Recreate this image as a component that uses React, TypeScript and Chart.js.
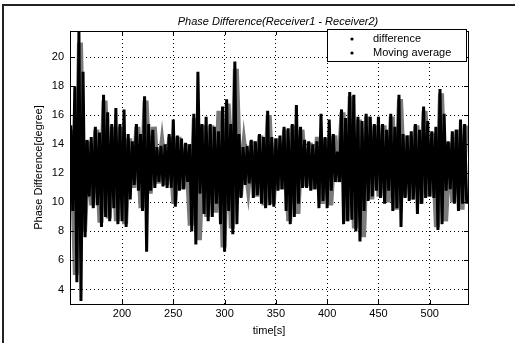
import React, { useEffect, useRef } from "react";
import { Chart, registerables } from "chart.js";

Chart.register(...registerables);

const TITLE = "Phase Difference(Receiver1 - Receiver2)";
const X_LABEL = "time[s]";
const Y_LABEL = "Phase Difference[degree]";
const LEGEND_LABELS = ["difference", "Moving average"];

const X_TICKS = [200, 250, 300, 350, 400, 450, 500];
const Y_TICKS = [4, 6, 8, 10, 12, 14, 16, 18, 20];

// difference: sampled every 2 s starting at 150 s
const DIFF_START = 150;
const DIFF_STEP = 2;
const differenceValues = [
  15.3, 9.4, 18.0, 4.5, 21.8, 3.2, 19.0, 7.6, 14.3, 10.4,
  14.5, 9.6, 15.2, 9.8, 14.8, 8.3, 17.4, 9.0, 16.2, 8.7,
  15.4, 9.6, 16.5, 8.5, 15.4, 8.7, 16.4, 8.3, 14.7, 10.2,
  14.2, 11.2, 15.4, 10.8, 14.7, 9.4, 17.3, 6.6, 15.4, 10.8,
  15.0, 11.0, 13.8, 11.4, 13.9, 11.1, 14.0, 11.0, 14.7, 11.0,
  15.7, 9.7, 14.6, 10.8, 14.4, 10.9, 14.1, 11.4, 14.0, 8.0,
  16.1, 7.1, 19.0, 10.6, 15.4, 9.2, 15.9, 8.7, 15.4, 9.0,
  15.2, 9.9, 14.9, 8.5, 16.6, 6.6, 17.1, 9.4, 15.4, 7.8,
  19.7, 8.5, 14.7, 10.3, 13.8, 11.2, 13.9, 11.3, 14.3, 10.3,
  14.2, 10.5, 14.7, 9.9, 14.5, 9.6, 16.3, 9.8, 14.5, 9.7,
  14.4, 10.8, 14.6, 10.9, 15.2, 9.4, 15.1, 8.5, 15.4, 9.0,
  16.7, 9.9, 15.2, 11.0, 14.3, 11.0, 14.2, 10.8, 14.0, 10.9,
  14.2, 9.6, 16.1, 10.1, 14.5, 9.6, 15.7, 10.8, 14.7, 11.4,
  13.5, 11.4, 16.4, 8.5, 15.8, 8.7, 17.6, 8.8, 17.4, 8.0,
  15.9, 7.3, 15.6, 9.4, 16.1, 10.1, 15.9, 10.4, 15.4, 10.8,
  15.9, 10.3, 15.4, 9.9, 15.0, 10.8, 16.1, 9.4, 15.2, 9.6,
  17.4, 8.3, 14.7, 10.3, 14.6, 10.1, 14.9, 10.2, 15.4, 9.2,
  15.0, 9.9, 16.6, 10.3, 15.6, 10.4, 14.9, 10.3, 15.2, 8.1,
  17.8, 8.5, 16.1, 10.8, 14.2, 10.9, 14.9, 9.9, 15.0, 9.4,
  15.7, 9.9, 15.4, 9.9,
];

// moving average: sampled every 4 s starting at 151 s
const AVG_START = 151;
const AVG_STEP = 4;
const movingAverageValues = [
  15.0, 5.0, 21.0, 8.0, 14.2, 9.8, 15.0, 8.6, 17.0, 8.9,
  15.2, 8.7, 15.2, 8.5, 14.4, 11.0, 15.2, 9.6, 17.0, 10.6,
  15.2, 11.3, 13.8, 11.2, 14.5, 9.9, 14.5, 10.9, 14.0, 8.4,
  15.8, 7.4, 15.3, 9.0, 15.3, 9.3, 16.3, 6.9, 16.8, 8.2,
  19.2, 10.4, 13.7, 11.3, 14.2, 10.4, 14.6, 9.8, 16.0, 9.9,
  14.4, 10.9, 15.0, 8.7, 15.3, 9.2, 15.0, 11.1, 14.1, 10.9,
  14.5, 9.9, 14.4, 9.8, 14.6, 11.4, 16.2, 8.7, 17.3, 8.2,
  15.7, 7.6, 15.9, 10.2, 15.3, 10.4, 15.3, 10.0, 15.9, 9.5,
  17.1, 10.4, 14.6, 10.2, 15.3, 9.9, 16.3, 10.4, 14.8, 8.3,
  17.5, 8.7, 14.1, 10.0, 15.0, 9.5, 15.3,
];

const X_MIN = 149.3;
const X_MAX = 537.3;
const Y_MIN = 3.0;
const Y_MAX = 21.8;

const FONT = "'Liberation Sans', Arial, sans-serif";

const decorPlugin = {
  id: "decor",
  beforeDraw(chart: any) {
    const ctx = chart.ctx;
    ctx.save();
    ctx.fillStyle = "#ffffff";
    ctx.fillRect(0, 0, chart.width, chart.height);
    ctx.restore();
  },
  afterDraw(chart: any) {
    const ctx = chart.ctx;
    const a = chart.chartArea;
    const xs = chart.scales.x;
    const ys = chart.scales.y;
    ctx.save();
    // outer figure frame
    ctx.strokeStyle = "#222";
    ctx.lineWidth = 2;
    ctx.beginPath();
    ctx.moveTo(3, 343);
    ctx.lineTo(3, 5);
    ctx.lineTo(515, 5);
    ctx.stroke();
    // plot box
    ctx.lineWidth = 1;
    ctx.strokeStyle = "#000";
    ctx.strokeRect(a.left + 0.5, a.top + 0.5, a.right - a.left, a.bottom - a.top);
    // inward tick marks
    ctx.beginPath();
    X_TICKS.forEach((t) => {
      const px = Math.round(xs.getPixelForValue(t)) + 0.5;
      ctx.moveTo(px, a.bottom);
      ctx.lineTo(px, a.bottom - 4);
      ctx.moveTo(px, a.top);
      ctx.lineTo(px, a.top + 4);
    });
    Y_TICKS.forEach((t) => {
      const py = Math.round(ys.getPixelForValue(t)) + 0.5;
      ctx.moveTo(a.left, py);
      ctx.lineTo(a.left + 4, py);
      ctx.moveTo(a.right, py);
      ctx.lineTo(a.right - 4, py);
    });
    ctx.stroke();
    // title
    ctx.fillStyle = "#000";
    ctx.font = `italic 11px ${FONT}`;
    ctx.textAlign = "center";
    ctx.textBaseline = "middle";
    ctx.fillText(TITLE, 278, 22);
    // legend
    const bx = 327, by = 29, bw = 139, bh = 32;
    ctx.fillStyle = "#fff";
    ctx.fillRect(bx, by, bw, bh);
    ctx.strokeStyle = "#000";
    ctx.strokeRect(bx + 0.5, by + 0.5, bw, bh);
    ctx.font = `11px ${FONT}`;
    ctx.textAlign = "left";
    LEGEND_LABELS.forEach((lab, i) => {
      const ry = by + 10 + i * 14;
      ctx.fillStyle = "#000";
      ctx.beginPath();
      ctx.arc(352, ry, 1.6, 0, Math.PI * 2);
      ctx.fill();
      ctx.fillText(lab, 373, ry);
    });
    ctx.restore();
  },
};

export default function App() {
  const ref = useRef<HTMLCanvasElement | null>(null);
  useEffect(() => {
    if (!ref.current) return;
    const diffData = differenceValues.map((v, i) => ({ x: DIFF_START + i * DIFF_STEP, y: v }));
    const avgData = movingAverageValues.map((v, i) => ({ x: AVG_START + i * AVG_STEP, y: v }));
    const chart = new Chart(ref.current, {
      type: "line",
      data: {
        datasets: [
          {
            label: LEGEND_LABELS[0],
            data: diffData,
            borderColor: "#000000",
            borderWidth: 3,
            borderJoinStyle: "miter",
            pointRadius: 0,
            tension: 0,
            order: 0,
          },
          {
            label: LEGEND_LABELS[1],
            data: avgData,
            borderColor: "#7a7a7a",
            borderWidth: 6,
            pointRadius: 0,
            tension: 0,
            order: 1,
          },
        ],
      },
      options: {
        responsive: false,
        animation: false,
        events: [],
        layout: { padding: { left: 28, right: 47, top: 31, bottom: 1 } },
        plugins: {
          legend: { display: false },
          title: { display: false },
          tooltip: { enabled: false },
        },
        scales: {
          x: {
            type: "linear",
            min: X_MIN,
            max: X_MAX,
            afterBuildTicks: (s: any) => {
              s.ticks = X_TICKS.map((v) => ({ value: v }));
            },
            afterFit: (s: any) => {
              s.height = 38;
            },
            ticks: {
              color: "#000",
              font: { family: FONT, size: 11 },
              padding: 3,
              maxRotation: 0,
              autoSkip: false,
              callback: (v: any) => String(v),
            },
            grid: { color: "#000", lineWidth: 1, drawTicks: false },
            border: { display: false, dash: [1, 3] },
            title: {
              display: true,
              text: X_LABEL,
              color: "#000",
              font: { family: FONT, size: 11 },
              padding: { top: 4, bottom: 4 },
            },
          },
          y: {
            type: "linear",
            min: Y_MIN,
            max: Y_MAX,
            afterBuildTicks: (s: any) => {
              s.ticks = Y_TICKS.map((v) => ({ value: v }));
            },
            afterFit: (s: any) => {
              s.width = 42;
            },
            ticks: {
              color: "#000",
              font: { family: FONT, size: 11 },
              padding: 6,
              autoSkip: false,
              callback: (v: any) => String(v),
            },
            grid: { color: "#000", lineWidth: 1, drawTicks: false },
            border: { display: false, dash: [1, 3] },
            title: {
              display: true,
              text: Y_LABEL,
              color: "#000",
              font: { family: FONT, size: 11 },
              padding: { top: 4, bottom: 4 },
            },
          },
        },
      },
      plugins: [decorPlugin],
    });
    return () => chart.destroy();
  }, []);
  return (
    <div style={{ position: "fixed", left: 0, top: 0, width: 515, height: 343 }}>
      <canvas ref={ref} width={515} height={343} style={{ display: "block" }} />
    </div>
  );
}
